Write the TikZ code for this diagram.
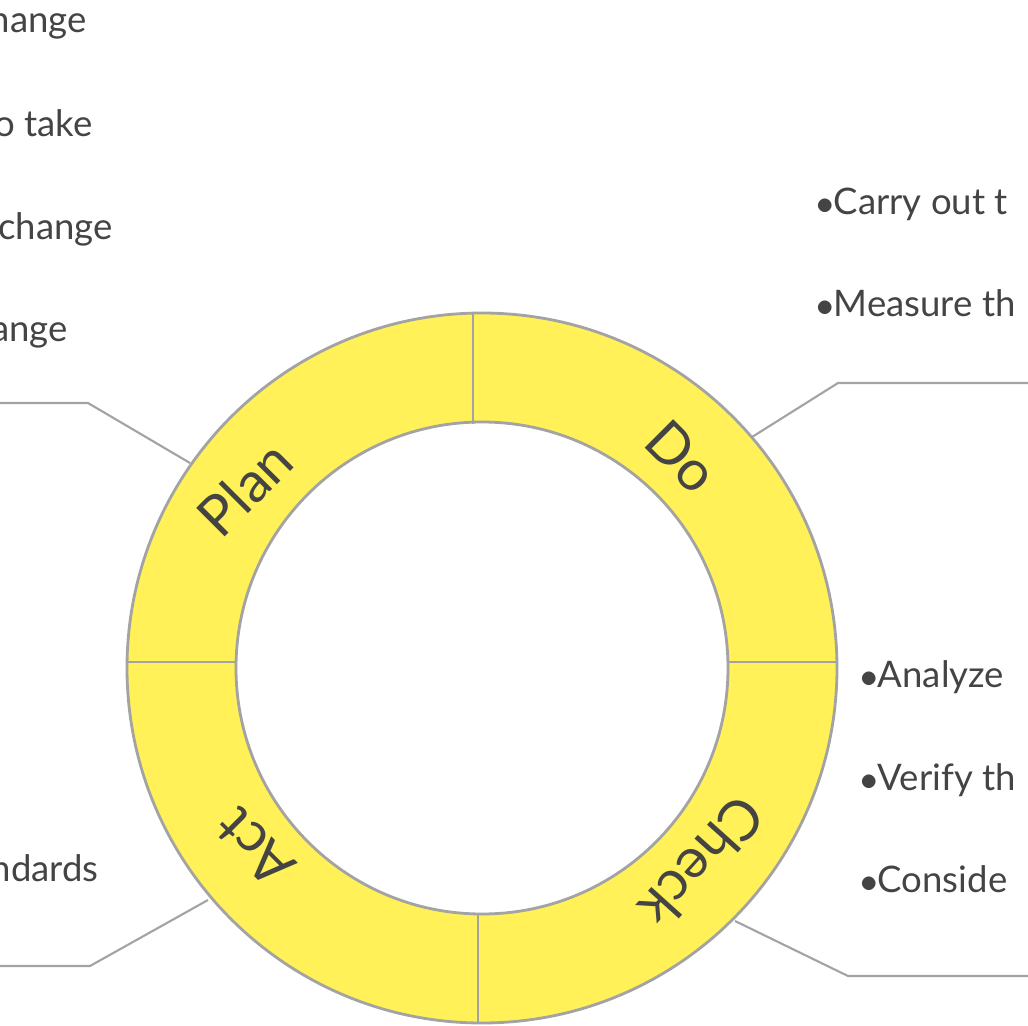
\documentclass[tikz,border=0pt]{standalone}
\usepackage{fontspec}
\setmainfont{Lato}
\definecolor{ringyellow}{HTML}{FFF157}
\definecolor{ringgray}{HTML}{A3A3A3}
\definecolor{txtgray}{HTML}{444444}
\begin{document}
\begin{tikzpicture}[x=0.025cm,y=-0.025cm,
  ring/.style={draw=ringgray,line width=2pt},
  lead/.style={draw=ringgray,line width=1.5pt},
  phase/.style={font=\fontsize{40}{40}\selectfont,text=txtgray},
  item/.style={font=\fontsize{26}{26}\selectfont,text=txtgray,inner sep=0pt}]
\useasboundingbox (0,0) rectangle (1028,1026);
\clip (0,0) rectangle (1028,1026);
% ring
\fill[ringyellow,even odd rule] (482,668) circle[radius=355] (482,668) circle[radius=246];
\draw[ring] (482,668) circle[radius=355];
\draw[ring] (482,668) circle[radius=246];
\coordinate (ct) at (473,313); \coordinate (ci) at (473,424);
\draw[ring] (ct) -- (ci);
\draw[ring] (837,662) -- (728,662);
\draw[ring] (127,662) -- (236,662);
\draw[ring] (478,1023) -- (478,914);
% labels
\node[phase,rotate=45] (plan) at (245,488) {Plan};
\node[phase,rotate=-45] (do) at (682,457) {Do};
\node[phase,rotate=-132] (check) at (702,862) {Check};
\node[phase,rotate=135] (act) at (255,848) {Act};
% leaders
\coordinate (p0) at (190,463); \coordinate (p1) at (88,403); \coordinate (p2) at (0,403);
\draw[lead] (p0) -- (p1) -- (p2);
\coordinate (d0) at (752,437); \coordinate (d1) at (838,383); \coordinate (d2) at (1028,383);
\draw[lead] (d0) -- (d1) -- (d2);
\coordinate (c0) at (735,921); \coordinate (c1) at (848,976); \coordinate (c2) at (1028,976);
\draw[lead] (c0) -- (c1) -- (c2);
\coordinate (a0) at (208,900); \coordinate (a1) at (90,966); \coordinate (a2) at (0,966);
\draw[lead] (a0) -- (a1) -- (a2);
% plan items
\node[item,anchor=base east] (pl1) at (87,32) {hange};
\node[item,anchor=base east] (pl2) at (93,136) {to take};
\node[item,anchor=base east] (pl3) at (113,239) {change};
\node[item,anchor=base east] (pl4) at (68,341) {ange};
\node[item,anchor=base east] (ac1) at (99,881) {ndards};
% do items
\node[item,anchor=base west] (do1) at (816,214) {$\bullet$Carry out t};
\node[item,anchor=base west] (do2) at (816,316) {$\bullet$Measure th};
% check items
\node[item,anchor=base west] (ch1) at (860,687) {$\bullet$Analyze};
\node[item,anchor=base west] (ch2) at (860,790) {$\bullet$Verify th};
\node[item,anchor=base west] (ch3) at (860,892) {$\bullet$Conside};
\end{tikzpicture}
\end{document}
